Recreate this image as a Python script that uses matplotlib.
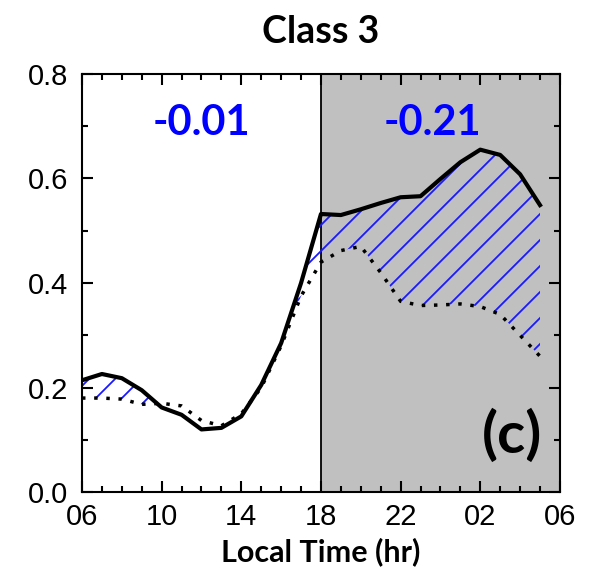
import matplotlib
matplotlib.use('Agg')
import matplotlib.pyplot as plt
import numpy as np

# hourly values, 06 LT through 05 LT next day
hours = list(range(6, 30))
solid = [0.214, 0.226, 0.218, 0.195, 0.162, 0.148, 0.120, 0.123, 0.145, 0.205,
         0.285, 0.400, 0.532, 0.530, 0.541, 0.553, 0.564, 0.566, 0.599, 0.631,
         0.655, 0.645, 0.608, 0.549]
dotted = [0.180, 0.180, 0.178, 0.168, 0.170, 0.165, 0.137, 0.127, 0.150, 0.200,
          0.280, 0.375, 0.440, 0.462, 0.470, 0.420, 0.365, 0.357, 0.358, 0.360,
          0.355, 0.340, 0.300, 0.260]

xticks = [6, 10, 14, 18, 22, 26, 30]
xticklabels = ['06', '10', '14', '18', '22', '02', '06']
yticks = [0.0, 0.2, 0.4, 0.6, 0.8]
day_value = '-0.01'
night_value = '-0.21'

# hatch spacing follows the dpi, so render at a lower dpi and scale sizes
DPI = 78
k = 100.0 / DPI


def pt(v):
    return v * k


plt.rcParams['hatch.linewidth'] = pt(1.3)

fig = plt.figure(figsize=(590 / DPI, 577 / DPI), dpi=DPI)
ax = fig.add_axes([0.139, 0.147, 0.810, 0.725])

# night shading and day/night divider
ax.axvspan(18, 30, color='#c0c0c0', zorder=0, lw=0)
ax.axvline(18, color='black', lw=pt(1.3), zorder=1)

h = np.array(hours)
s = np.array(solid)
d = np.array(dotted)
ax.fill_between(h, s, d, where=s > d, interpolate=True, facecolor='none',
                edgecolor='#1a1aff', hatch='/', linewidth=0, zorder=2)

ax.plot(h, s, color='black', lw=pt(3.0), zorder=3)
ax.plot(h, d, color='black', lw=pt(2.5), linestyle=(0, (1, 2.5)), zorder=3)

ax.set_xlim(6, 30)
ax.set_ylim(0, 0.8)
ax.set_xticks(xticks)
ax.set_xticklabels(xticklabels)
ax.set_xticks(range(6, 31), minor=True)
ax.set_yticks(yticks)
ax.set_yticklabels(['%.1f' % v for v in yticks])
ax.set_yticks(np.arange(0, 0.81, 0.1), minor=True)

ax.tick_params(which='both', direction='in', top=True, right=True, width=pt(1.5))
ax.tick_params(which='major', length=pt(8), labelsize=pt(21), pad=pt(10))
ax.tick_params(axis='x', which='major', pad=pt(8))
ax.tick_params(which='minor', length=pt(4.5))
for lab in ax.get_xticklabels() + ax.get_yticklabels():
    lab.set_family('Liberation Sans')
for sp in ax.spines.values():
    sp.set_linewidth(pt(1.5))

ax.set_title('Class 3', fontsize=pt(27), fontweight='bold', family='Lato',
             pad=pt(22))
ax.set_xlabel('Local Time (hr)', fontsize=pt(22), fontweight='bold',
              family='Lato', labelpad=pt(4))

ax.text(12, 0.706, day_value, color='blue', fontsize=pt(30), fontweight='bold',
        family='Lato', ha='center', va='center')
ax.text(23.6, 0.706, night_value, color='blue', fontsize=pt(30),
        fontweight='bold', family='Lato', ha='center', va='center')
ax.text(27.6, 0.107, '(c)', color='black', fontsize=pt(42), fontweight='bold',
        family='Lato', ha='center', va='center')

fig.savefig('out.png', dpi=DPI)
